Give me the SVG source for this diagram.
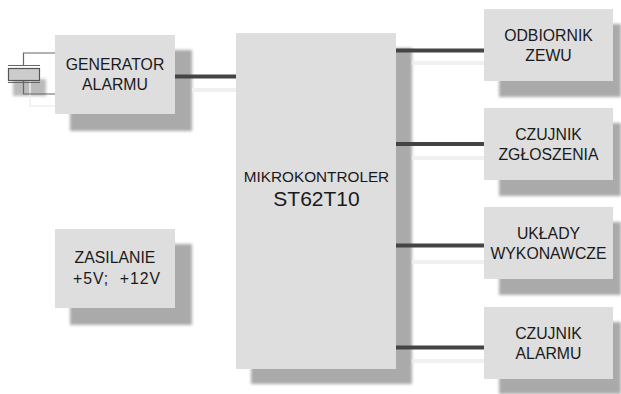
<svg xmlns="http://www.w3.org/2000/svg" width="621" height="394" viewBox="0 0 621 394">
<style>
.box{fill:#dedede}
.sh{fill:#aaa;filter:url(#b)}
.t{font-family:"Liberation Sans",Arial,sans-serif;font-size:15.8px;fill:#1a1a1a;text-anchor:middle}
.w{stroke:#444;stroke-width:4;fill:none}
.ws{stroke:#f0f0f0;stroke-width:4;fill:none;filter:url(#b2)}
.thin{stroke:#666;stroke-width:1.2;fill:none}
</style>
<defs>
<filter id="b" x="-10%" y="-10%" width="120%" height="120%"><feGaussianBlur stdDeviation="1.6"/></filter>
<filter id="b2" x="-10%" y="-200%" width="120%" height="500%"><feGaussianBlur stdDeviation="0.7"/></filter>
</defs>
<rect width="621" height="394" fill="#fff"/>
<g id="shadows">
<rect class="sh" x="70" y="50" width="122" height="81"/>
<rect class="sh" x="70" y="244" width="122" height="81"/>
<rect class="sh" x="251" y="48" width="161" height="336"/>
<rect class="sh" x="499" y="24" width="122" height="73"/>
<rect class="sh" x="499" y="123" width="122" height="73"/>
<rect class="sh" x="499" y="222" width="122" height="73"/>
<rect class="sh" x="499" y="322" width="122" height="72"/>
<rect x="13" y="79" width="33" height="17" fill="#bbb" filter="url(#b)"/>
</g>
<g id="connectors">
<path class="ws" d="M192 90H236M412 63H484M412 158H484M412 262H484M412 361H484"/>
<path d="M46 78H30V106H55" stroke="#f0f0f0" stroke-width="1.5" fill="none"/>
<path class="w" d="M175 76.500H236M396 50.500H484M396 144H484M396 245.500H484M396 347.500H484"/>
<path class="thin" d="M55 53H23.500V66M23.500 81V94H55"/>
</g>
<g id="crystal">
<path class="thin" d="M8 65.500H40M8 82.500H40"/>
<rect x="8.500" y="68.500" width="31" height="12" fill="#ccc" stroke="#555" stroke-width="1.2"/>
</g>
<g id="generator"><rect class="box" x="55" y="35" width="120" height="79"/><text class="t" x="115" y="70">GENERATOR</text><text class="t" x="115" y="90">ALARMU</text></g>
<g id="zasilanie"><rect class="box" x="55" y="229" width="120" height="79"/><text class="t" x="115" y="263">ZASILANIE</text><text class="t" x="116.500" y="284" xml:space="preserve" textLength="87" lengthAdjust="spacing">+5V;  +12V</text></g>
<g id="mikrokontroler"><rect class="box" x="236" y="33" width="160" height="336"/><text class="t" x="316.500" y="182" style="font-size:15.3px">MIKROKONTROLER</text><text class="t" x="316.500" y="206" style="font-size:21px">ST62T10</text></g>
<g id="odbiornik"><rect class="box" x="484" y="9" width="129" height="72"/><text class="t" x="548.500" y="41">ODBIORNIK</text><text class="t" x="548.500" y="61">ZEWU</text></g>
<g id="zgloszenia"><rect class="box" x="484" y="108" width="129" height="72"/><text class="t" x="548.500" y="140">CZUJNIK</text><text class="t" x="548.500" y="160">ZGŁOSZENIA</text></g>
<g id="uklady"><rect class="box" x="484" y="207" width="129" height="72"/><text class="t" x="548.500" y="239">UKŁADY</text><text class="t" x="548.500" y="259">WYKONAWCZE</text></g>
<g id="alarm"><rect class="box" x="484" y="307" width="129" height="72"/><text class="t" x="548.500" y="339">CZUJNIK</text><text class="t" x="548.500" y="359">ALARMU</text></g>
</svg>
